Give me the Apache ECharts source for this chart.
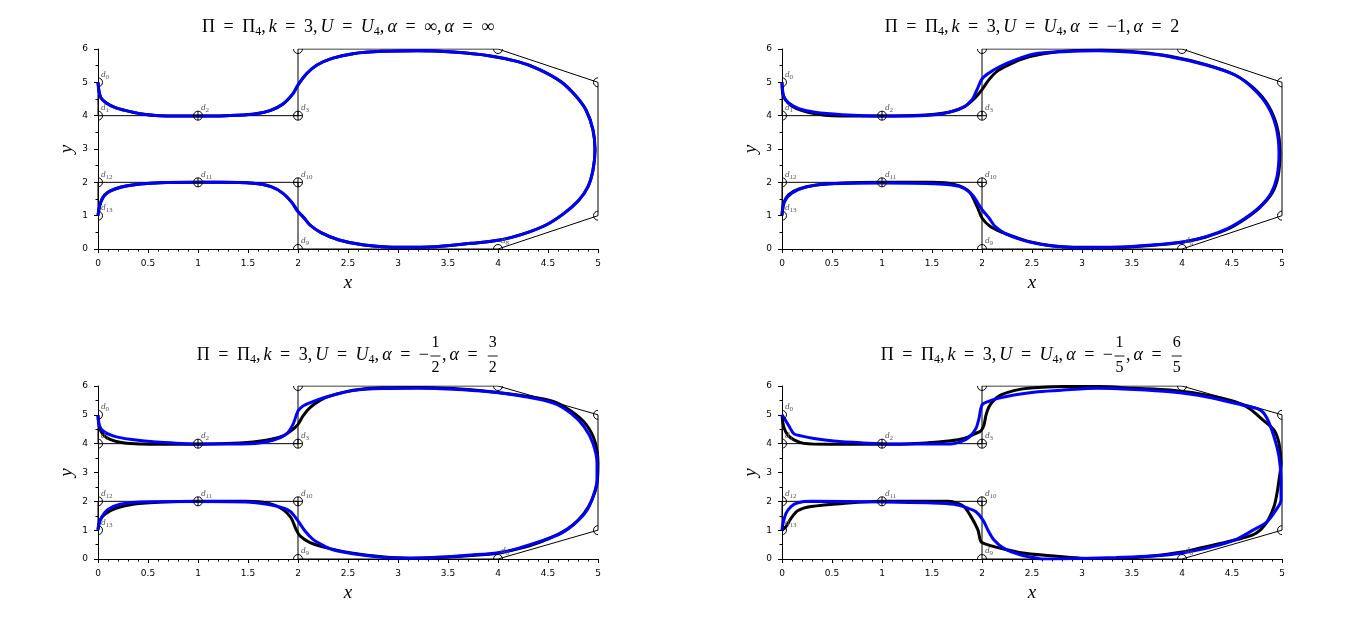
<!DOCTYPE html>
<html><head><meta charset="utf-8">
<script src="https://cdn.jsdelivr.net/npm/echarts@6/dist/echarts.min.js"></script>
<style>html,body{margin:0;padding:0;background:#fff}#c{width:1366px;height:620px}</style>
</head><body><div id="c"></div>
<script>
// control polygon d0..d13
const ctrlX = [0,0,1,2,2,4,5,5,4,2,2,1,0,0];
const ctrlY = [5,4,4,4,6,6,5,1,0,0,2,2,2,1];
const ctrlNames = ['0','1','2','3','4','5','6','7','8','9','10','11','12','13'];
const plusIdx = [2,3,10,11];

// panel 1 (alpha = inf)
const curveBlue1 = [[0,5.0],[0.01,4.73],[0.03,4.53],[0.083,4.38],[0.167,4.25],[0.28,4.15],[0.42,4.06],[0.62,4.0],[1.0,3.99],[1.28,4.0],[1.55,4.04],[1.72,4.15],[1.85,4.35],[1.95,4.66],[2.0,4.92],[2.09,5.27],[2.19,5.52],[2.34,5.72],[2.55,5.86],[2.84,5.93],[3.2,5.95],[3.55,5.91],[3.91,5.8],[4.2,5.62],[4.41,5.39],[4.63,5.02],[4.77,4.62],[4.88,4.17],[4.95,3.57],[4.97,2.97],[4.95,2.37],[4.9,1.87],[4.81,1.47],[4.66,1.07],[4.48,0.72],[4.27,0.47],[4.02,0.27],[3.73,0.17],[3.38,0.07],[3.02,0.05],[2.66,0.12],[2.41,0.27],[2.23,0.49],[2.12,0.72],[2.05,0.97],[2.0,1.12],[1.94,1.39],[1.85,1.67],[1.73,1.87],[1.55,1.97],[1.23,2.0],[1.0,2.0],[0.62,1.99],[0.42,1.95],[0.28,1.89],[0.17,1.8],[0.1,1.7],[0.05,1.55],[0.017,1.3],[0,1.0]];
const curveBlack1 = curveBlue1;

// panel 2 (alpha = -1, 2)
const curveBlack2 = [[0,5.0],[0.007,4.68],[0.033,4.48],[0.1,4.28],[0.2,4.15],[0.33,4.06],[0.5,4.0],[1.0,3.99],[1.43,4.02],[1.67,4.1],[1.83,4.28],[1.93,4.53],[2.0,4.78],[2.07,5.08],[2.15,5.33],[2.27,5.53],[2.4,5.7],[2.6,5.85],[2.9,5.95],[3.2,5.96],[3.55,5.91],[3.88,5.78],[4.24,5.53],[4.53,5.22],[4.72,4.82],[4.86,4.32],[4.95,3.67],[4.98,2.87],[4.96,2.17],[4.9,1.67],[4.78,1.25],[4.63,0.9],[4.46,0.6],[4.24,0.36],[4.02,0.21],[3.7,0.11],[3.34,0.05],[2.99,0.05],[2.7,0.1],[2.5,0.2],[2.33,0.36],[2.2,0.5],[2.08,0.68],[2.0,0.93],[1.95,1.28],[1.87,1.73],[1.73,1.93],[1.5,2.0],[1.0,2.0],[0.6,1.98],[0.33,1.91],[0.17,1.8],[0.067,1.63],[0.017,1.38],[0,1.0]];
const curveBlue2 = [[0,5.0],[0.017,4.58],[0.067,4.38],[0.17,4.21],[0.33,4.1],[0.6,4.03],[1.0,3.99],[1.37,4.0],[1.6,4.06],[1.8,4.23],[1.9,4.48],[1.95,4.78],[2.0,5.1],[2.07,5.28],[2.17,5.46],[2.32,5.66],[2.52,5.85],[2.81,5.92],[3.16,5.95],[3.52,5.9],[3.88,5.77],[4.24,5.52],[4.53,5.22],[4.71,4.82],[4.85,4.32],[4.94,3.67],[4.97,2.87],[4.95,2.17],[4.89,1.67],[4.78,1.27],[4.63,0.92],[4.46,0.62],[4.24,0.37],[4.02,0.22],[3.7,0.12],[3.34,0.05],[2.99,0.04],[2.63,0.12],[2.38,0.29],[2.23,0.47],[2.13,0.68],[2.07,0.93],[2.0,1.18],[1.9,1.63],[1.77,1.88],[1.5,1.96],[1.0,1.98],[0.43,1.95],[0.23,1.85],[0.1,1.68],[0.027,1.43],[0,1.03]];

// panel 3 (alpha = -1/2, 3/2)
const curveBlack3 = [[0,4.98],[0.017,4.55],[0.05,4.32],[0.12,4.15],[0.25,4.03],[0.42,3.99],[1.0,3.98],[1.42,4.02],[1.68,4.12],[1.85,4.27],[1.95,4.5],[2.0,4.67],[2.05,4.96],[2.12,5.25],[2.22,5.5],[2.32,5.65],[2.55,5.85],[2.84,5.94],[3.2,5.95],[3.55,5.91],[3.91,5.81],[4.27,5.65],[4.56,5.46],[4.73,5.13],[4.88,4.67],[4.97,4.07],[5.0,3.32],[4.99,2.62],[4.94,2.05],[4.86,1.58],[4.75,1.18],[4.61,0.87],[4.41,0.57],[4.2,0.35],[4.0,0.2],[3.73,0.12],[3.38,0.05],[3.12,0.03],[2.84,0.08],[2.55,0.2],[2.32,0.36],[2.12,0.57],[2.02,0.8],[1.98,1.03],[1.93,1.43],[1.85,1.72],[1.72,1.92],[1.48,2.0],[1.0,2.0],[0.65,1.98],[0.35,1.9],[0.17,1.75],[0.067,1.55],[0.017,1.32],[0,1.03]];
const curveBlue3 = [[0,4.98],[0.01,4.67],[0.05,4.44],[0.15,4.27],[0.32,4.15],[0.58,4.06],[1.0,3.99],[1.52,4.0],[1.75,4.12],[1.88,4.32],[1.95,4.67],[2.0,5.13],[2.05,5.31],[2.15,5.46],[2.28,5.62],[2.55,5.84],[2.84,5.91],[3.2,5.92],[3.55,5.89],[3.91,5.8],[4.27,5.63],[4.56,5.4],[4.73,5.05],[4.86,4.59],[4.95,4.01],[4.99,3.32],[4.99,2.74],[4.95,2.16],[4.88,1.64],[4.77,1.24],[4.63,0.89],[4.41,0.6],[4.2,0.37],[4.0,0.22],[3.73,0.14],[3.38,0.06],[3.12,0.03],[2.84,0.06],[2.55,0.18],[2.34,0.33],[2.25,0.47],[2.15,0.68],[2.07,0.97],[2.0,1.32],[1.92,1.66],[1.78,1.84],[1.52,1.97],[1.0,1.99],[0.42,1.98],[0.22,1.9],[0.1,1.72],[0.033,1.43],[0.01,1.2],[0,1.0]];

// panel 4 (alpha = -1/5, 6/5)
const curveBlack4 = [[0,5.0],[0.017,4.59],[0.057,4.3],[0.12,4.13],[0.22,4.01],[0.46,3.98],[1.12,3.98],[1.46,4.03],[1.66,4.09],[1.82,4.18],[1.94,4.36],[1.99,4.45],[2.02,4.65],[2.04,4.99],[2.07,5.28],[2.12,5.51],[2.19,5.69],[2.32,5.84],[2.46,5.92],[2.81,5.98],[3.16,5.98],[3.52,5.92],[3.88,5.86],[4.24,5.69],[4.53,5.46],[4.67,5.23],[4.81,4.82],[4.92,4.47],[4.97,4.01],[4.99,3.32],[4.97,2.74],[4.95,2.28],[4.92,1.82],[4.85,1.29],[4.74,0.89],[4.6,0.72],[4.38,0.54],[4.17,0.37],[4.02,0.25],[3.7,0.1],[3.34,0.02],[2.99,0.03],[2.66,0.12],[2.39,0.22],[2.19,0.37],[2.06,0.49],[1.99,0.6],[1.96,1.0],[1.89,1.47],[1.82,1.82],[1.76,1.93],[1.66,2.0],[1.02,2.0],[0.62,1.93],[0.29,1.82],[0.16,1.68],[0.09,1.41],[0.04,1.12],[0,1.0]];
const curveBlue4 = [[0,5.0],[0.023,4.88],[0.073,4.59],[0.12,4.34],[0.19,4.27],[0.32,4.18],[0.52,4.09],[0.79,4.03],[1.12,3.99],[1.69,3.99],[1.79,4.07],[1.87,4.22],[1.94,4.53],[1.97,4.88],[2.0,5.34],[2.06,5.46],[2.16,5.57],[2.32,5.69],[2.56,5.8],[2.81,5.86],[3.16,5.92],[3.52,5.88],[3.88,5.8],[4.24,5.63],[4.6,5.34],[4.78,5.17],[4.85,4.88],[4.92,4.24],[4.97,3.55],[4.99,2.74],[4.99,2.05],[4.94,1.7],[4.85,1.29],[4.71,1.0],[4.53,0.66],[4.31,0.43],[4.02,0.22],[3.7,0.1],[3.34,0.05],[2.99,0.02],[2.63,0.0],[2.56,0.02],[2.39,0.14],[2.22,0.37],[2.12,0.66],[2.06,1.0],[2.01,1.35],[1.94,1.64],[1.86,1.76],[1.72,1.9],[1.46,1.95],[1.02,1.98],[0.29,2.0],[0.16,1.95],[0.09,1.82],[0.04,1.58],[0.007,1.18],[0,1.0]];

const blackCurves = [curveBlack1, curveBlack2, curveBlack3, curveBlack4];
const blueCurves = [curveBlue1, curveBlue2, curveBlue3, curveBlue4];

// '~' marks a thin space (after commas), ' ' a wide math space (around '=')
const titleHead = [['rm','Π = Π'],['sub','4'],['rm',',~'],['it','k'],['rm',' = 3,~'],['it','U'],['rm',' = '],['it','U'],['sub','4'],['rm',',~']];
const titleTails = [
  [['it','α'],['rm',' = ∞,~'],['it','α'],['rm',' = ∞']],
  [['it','α'],['rm',' = −1,~'],['it','α'],['rm',' = 2']],
  [['it','α'],['rm',' = −'],['frac','1','2'],['rm',',~'],['it','α'],['rm',' = '],['frac','3','2']],
  [['it','α'],['rm',' = −'],['frac','1','5'],['rm',',~'],['it','α'],['rm',' = '],['frac','6','5']]
];

const grids = [
  {left:98, top:49, width:500, height:200},
  {left:782, top:49, width:500, height:200},
  {left:98, top:386, width:500, height:173},
  {left:782, top:386, width:500, height:173}
];
const titleCY = [27, 27, 355, 355];
const TITLE_W1 = 292;

const SERIF = '"Liberation Serif"';
const meas = document.createElement('canvas').getContext('2d');
function tw(t, font){ meas.font = font; return meas.measureText(t).width; }
const F = 18, FS = 12, FF = 16;
const fonts = {rm: F+'px '+SERIF, it:'italic '+F+'px '+SERIF, sub: FS+'px '+SERIF, frac: FF+'px '+SERIF};
const THIN = 0.17 * F;

function tokens(parts, extra){
  const out = [];
  parts.forEach(p => {
    if (p[0]==='frac') {
      const w = Math.max(tw(p[1],fonts.frac), tw(p[2],fonts.frac)) + 2;
      out.push({kind:'frac', num:p[1], den:p[2], w: w + 3});
    } else if (p[0]==='rm') {
      p[1].split(/( |~)/).forEach(b => {
        if (b === '') return;
        if (b === ' ') out.push({kind:'space', w: tw(' ', fonts.rm) + extra});
        else if (b === '~') out.push({kind:'thin', w: THIN});
        else out.push({kind:'rm', text:b, w: tw(b, fonts.rm)});
      });
    } else {
      out.push({kind:p[0], text:p[1], w: tw(p[1], fonts[p[0]])});
    }
  });
  return out;
}
function widthOf(toks){ return toks.reduce((s,t)=>s+t.w,0); }
const firstParts = titleHead.concat(titleTails[0]);
const nSp = tokens(firstParts, 0).filter(t=>t.kind==='space').length;
const extraSpace = Math.max(0, (TITLE_W1 - widthOf(tokens(firstParts, 0))) / nSp);

function buildTitle(parts, cx, cy){
  const toks = tokens(parts, extraSpace);
  let x = cx - widthOf(toks)/2;
  const els = [];
  const T = (text, xx, yy, font, align) => ({type:'text', x:xx, y:yy, silent:true, style:{text, font, fill:'#000', align:align||'left', verticalAlign:'middle', textAlign:align||'left', textVerticalAlign:'middle'}});
  toks.forEach(t => {
    if (t.kind==='frac') {
      const mid = x + t.w/2;
      els.push(T(t.num, mid, cy-12, fonts.frac, 'center'));
      els.push(T(t.den, mid, cy+13, fonts.frac, 'center'));
      els.push({type:'line', silent:true, shape:{x1:x+1.5, y1:cy+1, x2:x+t.w-1.5, y2:cy+1}, style:{stroke:'#000', lineWidth:0.9}});
    } else if (t.kind==='sub') {
      els.push(T(t.text, x, cy+4.5, fonts.sub));
    } else if (t.kind==='rm' || t.kind==='it') {
      els.push(T(t.text, x, cy, fonts[t.kind]));
    }
    x += t.w;
  });
  return els;
}

const graphics = [];
grids.forEach((g,i) => {
  graphics.push(...buildTitle(titleHead.concat(titleTails[i]), g.left + g.width/2, titleCY[i]));
});

const ctrlData = ctrlX.map((x,i) => [x, ctrlY[i], i]);

function markerSeries(gi){
  return {
    type:'custom', xAxisIndex:gi, yAxisIndex:gi, clip:true, silent:true, z:6,
    data: ctrlData,
    renderItem(params, api){
      const p = api.coord([api.value(0), api.value(1)]);
      const i = api.value(2);
      const r = 4.5;
      const ch = [{type:'circle', shape:{cx:p[0], cy:p[1], r}, style:{fill:'none', stroke:'#000', lineWidth:1}}];
      if (plusIdx.indexOf(i) >= 0) {
        ch.push({type:'line', shape:{x1:p[0]-r, y1:p[1], x2:p[0]+r, y2:p[1]}, style:{stroke:'#000', lineWidth:1}});
        ch.push({type:'line', shape:{x1:p[0], y1:p[1]-r, x2:p[0], y2:p[1]+r}, style:{stroke:'#000', lineWidth:1}});
      }
      ch.push({type:'text', x:p[0]+3, y:p[1]-8, style:{text:'d', font:'italic 9px '+SERIF, fill:'#555', align:'left', verticalAlign:'middle'}});
      ch.push({type:'text', x:p[0]+7.5, y:p[1]-5.5, style:{text:ctrlNames[i], font:'7px '+SERIF, fill:'#555', align:'left', verticalAlign:'middle'}});
      return {type:'group', children: ch};
    }
  };
}

const xAxes = [], yAxes = [], series = [];
grids.forEach((g,i) => {
  xAxes.push({gridIndex:i, type:'value', min:0, max:5, interval:0.5,
    axisLine:{show:true, onZero:false, lineStyle:{color:'#000', width:1}},
    axisTick:{show:true, length:4, lineStyle:{color:'#000', width:1}},
    minorTick:{show:true, splitNumber:5, length:2.5, lineStyle:{color:'#000', width:1}},
    splitLine:{show:false}, minorSplitLine:{show:false},
    axisLabel:{color:'#000', fontSize:9, fontFamily:'DejaVu Sans', margin:10},
    name:'x', nameLocation:'middle', nameGap:24,
    nameTextStyle:{fontFamily:'Liberation Serif', fontStyle:'italic', fontSize:19, color:'#000'}
  });
  yAxes.push({gridIndex:i, type:'value', min:0, max:6, interval:1,
    axisLine:{show:true, onZero:false, lineStyle:{color:'#000', width:1}},
    axisTick:{show:true, length:4, lineStyle:{color:'#000', width:1}},
    minorTick:{show:true, splitNumber:2, length:2.5, lineStyle:{color:'#000', width:1}},
    splitLine:{show:false}, minorSplitLine:{show:false},
    axisLabel:{color:'#000', fontSize:9, fontFamily:'DejaVu Sans', margin:10},
    name:'y', nameLocation:'middle', nameGap:22, nameRotate:90,
    nameTextStyle:{fontFamily:'Liberation Serif', fontStyle:'italic', fontSize:19, color:'#000'}
  });
  series.push({type:'line', xAxisIndex:i, yAxisIndex:i, data: ctrlX.map((x,k)=>[x, ctrlY[k]]),
    symbol:'none', lineStyle:{color:'#000', width:1}, clip:true, silent:true, z:2});
  series.push({type:'line', xAxisIndex:i, yAxisIndex:i, data: blackCurves[i], smooth:0.3,
    symbol:'none', lineStyle:{color:'#000', width:3}, clip:true, silent:true, z:3});
  series.push({type:'line', xAxisIndex:i, yAxisIndex:i, data: blueCurves[i], smooth:0.3,
    symbol:'none', lineStyle:{color:'#0000ff', width:3}, clip:true, silent:true, z:4});
  series.push(markerSeries(i));
});

const chart = echarts.init(document.getElementById('c'), null, {renderer:'canvas'});
chart.setOption({
  animation:false,
  backgroundColor:'#fff',
  grid: grids.map(g => Object.assign({containLabel:false, outerBoundsMode:'none'}, g)),
  xAxis: xAxes, yAxis: yAxes, series,
  graphic: graphics
});
</script></body></html>
